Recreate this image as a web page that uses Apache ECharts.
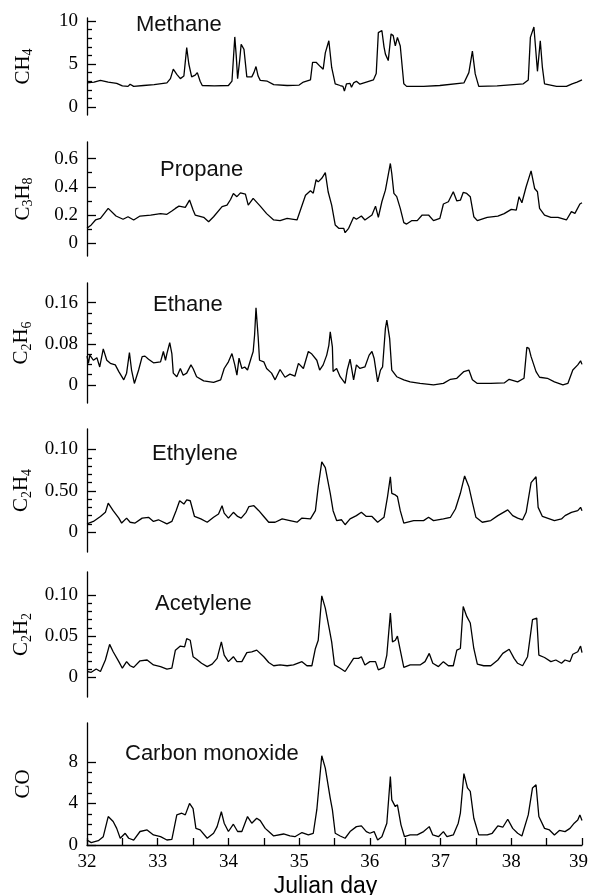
<!DOCTYPE html>
<html>
<head>
<meta charset="utf-8">
<script src="https://cdn.jsdelivr.net/npm/echarts@6/dist/echarts.min.js"></script>
<style>
  html, body { margin: 0; padding: 0; background: #fff; }
  #chart { width: 589px; height: 895px; }
</style>
</head>
<body>
<div id="chart"></div>
<script>
// x axis (Julian day)
const dayTicks = [32, 33, 34, 35, 36, 37, 38, 39];

// [day, value]
const methane = [[32.0,2.8],[32.1,2.9],[32.19,3.1],[32.3,2.9],[32.42,2.75],[32.5,2.45],[32.58,2.4],[32.61,2.65],[32.66,2.4],[32.8,2.5],[32.95,2.6],[33.13,2.8],[33.18,3.3],[33.22,4.4],[33.27,3.8],[33.32,3.3],[33.37,3.6],[33.41,6.9],[33.44,5.0],[33.48,3.5],[33.53,3.7],[33.56,4.0],[33.6,3.0],[33.63,2.5],[33.8,2.45],[34.0,2.5],[34.05,3.0],[34.09,8.15],[34.11,6.0],[34.13,3.3],[34.16,5.5],[34.18,7.3],[34.22,6.7],[34.26,3.5],[34.33,3.5],[34.36,4.0],[34.39,4.7],[34.42,3.6],[34.45,3.1],[34.55,3.0],[34.64,2.6],[34.83,2.5],[35.0,2.55],[35.06,2.9],[35.16,3.15],[35.19,5.2],[35.24,5.2],[35.3,4.7],[35.34,4.4],[35.37,6.3],[35.42,7.7],[35.46,4.6],[35.51,2.7],[35.58,2.5],[35.62,2.4],[35.64,1.85],[35.67,2.7],[35.72,2.75],[35.74,2.3],[35.77,2.8],[35.81,3.0],[35.86,2.65],[35.95,2.9],[36.05,3.15],[36.09,3.9],[36.12,8.65],[36.17,8.9],[36.2,7.0],[36.22,6.15],[36.26,5.4],[36.3,8.5],[36.33,8.3],[36.36,7.1],[36.39,8.1],[36.43,7.1],[36.48,2.7],[36.52,2.4],[36.76,2.4],[36.99,2.5],[37.33,2.8],[37.4,4.0],[37.45,6.5],[37.49,3.85],[37.54,2.4],[37.8,2.45],[38.17,2.7],[38.24,3.15],[38.27,8.1],[38.32,9.3],[38.37,4.15],[38.41,7.7],[38.44,4.6],[38.47,2.7],[38.64,2.4],[38.78,2.4],[38.86,2.7],[38.93,2.9],[39.0,3.15]];

const propane = [[32.0,0.106],[32.06,0.13],[32.12,0.165],[32.19,0.176],[32.3,0.247],[32.41,0.193],[32.51,0.17],[32.58,0.188],[32.66,0.165],[32.75,0.193],[32.9,0.2],[33.04,0.21],[33.13,0.205],[33.2,0.228],[33.25,0.247],[33.3,0.263],[33.39,0.254],[33.45,0.306],[33.5,0.235],[33.53,0.2],[33.65,0.184],[33.72,0.153],[33.79,0.188],[33.91,0.259],[33.98,0.27],[34.03,0.31],[34.07,0.353],[34.12,0.33],[34.17,0.357],[34.24,0.348],[34.28,0.27],[34.35,0.318],[34.45,0.263],[34.54,0.21],[34.64,0.165],[34.73,0.16],[34.83,0.176],[34.92,0.17],[34.97,0.165],[35.09,0.34],[35.16,0.372],[35.2,0.355],[35.24,0.45],[35.27,0.435],[35.32,0.46],[35.37,0.5],[35.41,0.365],[35.46,0.27],[35.51,0.13],[35.56,0.106],[35.63,0.106],[35.65,0.075],[35.7,0.106],[35.77,0.184],[35.81,0.17],[35.88,0.193],[35.93,0.165],[36.03,0.2],[36.08,0.263],[36.12,0.184],[36.17,0.294],[36.22,0.376],[36.29,0.565],[36.31,0.494],[36.34,0.353],[36.38,0.33],[36.43,0.247],[36.48,0.146],[36.52,0.136],[36.59,0.16],[36.67,0.16],[36.74,0.2],[36.83,0.2],[36.9,0.16],[36.99,0.176],[37.04,0.278],[37.11,0.294],[37.18,0.365],[37.23,0.3],[37.28,0.305],[37.32,0.36],[37.37,0.353],[37.42,0.33],[37.47,0.188],[37.52,0.16],[37.66,0.184],[37.81,0.193],[37.9,0.21],[38.0,0.24],[38.07,0.235],[38.11,0.33],[38.15,0.287],[38.21,0.4],[38.28,0.513],[38.33,0.388],[38.37,0.365],[38.4,0.247],[38.47,0.2],[38.56,0.184],[38.66,0.184],[38.78,0.165],[38.85,0.224],[38.9,0.212],[38.97,0.278],[39.0,0.287]];

const ethane = [[32.0,0.056],[32.02,0.042],[32.04,0.058],[32.09,0.048],[32.14,0.053],[32.18,0.035],[32.23,0.07],[32.28,0.048],[32.33,0.042],[32.4,0.039],[32.45,0.026],[32.52,0.01],[32.56,0.023],[32.6,0.063],[32.63,0.029],[32.67,0.003],[32.73,0.029],[32.78,0.055],[32.82,0.056],[32.87,0.05],[32.94,0.043],[33.04,0.045],[33.08,0.065],[33.11,0.048],[33.13,0.061],[33.17,0.082],[33.2,0.061],[33.22,0.023],[33.27,0.016],[33.32,0.032],[33.36,0.019],[33.41,0.023],[33.47,0.039],[33.5,0.032],[33.55,0.016],[33.65,0.008],[33.79,0.005],[33.89,0.01],[33.94,0.032],[34.0,0.045],[34.05,0.061],[34.09,0.039],[34.12,0.019],[34.15,0.052],[34.19,0.032],[34.23,0.035],[34.27,0.029],[34.32,0.052],[34.35,0.065],[34.37,0.097],[34.39,0.15],[34.42,0.094],[34.44,0.048],[34.5,0.045],[34.54,0.032],[34.61,0.023],[34.66,0.01],[34.73,0.03],[34.8,0.015],[34.87,0.021],[34.94,0.017],[34.99,0.042],[35.06,0.032],[35.13,0.065],[35.18,0.06],[35.25,0.048],[35.29,0.029],[35.34,0.039],[35.39,0.058],[35.42,0.077],[35.44,0.103],[35.47,0.074],[35.48,0.026],[35.53,0.032],[35.58,0.016],[35.65,0.003],[35.68,0.029],[35.72,0.05],[35.77,0.01],[35.81,0.039],[35.86,0.032],[35.93,0.035],[35.99,0.058],[36.03,0.065],[36.06,0.052],[36.11,0.006],[36.15,0.029],[36.18,0.035],[36.22,0.11],[36.24,0.126],[36.28,0.09],[36.31,0.029],[36.38,0.016],[36.48,0.01],[36.57,0.006],[36.71,0.003],[36.9,0.0],[37.04,0.003],[37.14,0.011],[37.23,0.013],[37.33,0.026],[37.4,0.029],[37.45,0.01],[37.52,0.003],[37.71,0.003],[37.9,0.004],[37.97,0.011],[38.09,0.006],[38.18,0.013],[38.22,0.073],[38.25,0.071],[38.28,0.055],[38.3,0.052],[38.35,0.026],[38.4,0.015],[38.51,0.013],[38.61,0.006],[38.73,0.0],[38.8,0.003],[38.87,0.029],[38.94,0.039],[38.98,0.047],[39.0,0.04]];

const ethylene = [[32.0,0.01],[32.09,0.013],[32.19,0.019],[32.26,0.024],[32.3,0.035],[32.37,0.026],[32.45,0.017],[32.49,0.011],[32.56,0.017],[32.61,0.012],[32.68,0.011],[32.78,0.017],[32.87,0.018],[32.94,0.013],[33.01,0.015],[33.13,0.01],[33.2,0.013],[33.26,0.026],[33.31,0.038],[33.37,0.034],[33.41,0.039],[33.46,0.038],[33.52,0.019],[33.61,0.016],[33.7,0.012],[33.79,0.018],[33.86,0.022],[33.91,0.032],[33.94,0.023],[34.0,0.017],[34.07,0.024],[34.13,0.019],[34.18,0.017],[34.25,0.024],[34.29,0.031],[34.36,0.032],[34.43,0.026],[34.5,0.019],[34.57,0.012],[34.66,0.012],[34.76,0.016],[34.87,0.014],[34.97,0.012],[35.04,0.017],[35.16,0.016],[35.23,0.026],[35.27,0.055],[35.32,0.085],[35.37,0.078],[35.39,0.076],[35.44,0.047],[35.48,0.026],[35.53,0.014],[35.6,0.015],[35.65,0.009],[35.72,0.016],[35.81,0.02],[35.88,0.024],[35.95,0.019],[36.03,0.019],[36.11,0.012],[36.2,0.018],[36.25,0.043],[36.29,0.067],[36.31,0.047],[36.36,0.045],[36.39,0.043],[36.43,0.026],[36.48,0.011],[36.62,0.014],[36.76,0.014],[36.83,0.018],[36.9,0.014],[37.04,0.016],[37.14,0.018],[37.21,0.028],[37.28,0.047],[37.34,0.068],[37.4,0.055],[37.45,0.036],[37.5,0.018],[37.59,0.012],[37.71,0.014],[37.81,0.02],[37.95,0.027],[38.02,0.02],[38.09,0.017],[38.16,0.015],[38.21,0.024],[38.28,0.06],[38.35,0.067],[38.38,0.03],[38.44,0.019],[38.61,0.014],[38.71,0.016],[38.76,0.02],[38.85,0.024],[38.94,0.026],[38.98,0.03],[39.0,0.026]];

const acetylene = [[32.0,0.007],[32.06,0.006],[32.13,0.01],[32.19,0.007],[32.26,0.021],[32.32,0.04],[32.37,0.031],[32.45,0.019],[32.5,0.011],[32.56,0.019],[32.61,0.014],[32.66,0.012],[32.75,0.02],[32.85,0.021],[32.94,0.015],[33.04,0.013],[33.13,0.01],[33.2,0.011],[33.25,0.033],[33.32,0.038],[33.38,0.037],[33.41,0.047],[33.46,0.045],[33.5,0.025],[33.55,0.022],[33.62,0.017],[33.7,0.013],[33.77,0.016],[33.84,0.023],[33.9,0.043],[33.94,0.027],[34.0,0.019],[34.07,0.025],[34.12,0.019],[34.19,0.019],[34.26,0.03],[34.33,0.031],[34.4,0.033],[34.5,0.025],[34.57,0.018],[34.64,0.014],[34.73,0.015],[34.83,0.014],[34.92,0.015],[35.04,0.019],[35.11,0.014],[35.18,0.014],[35.23,0.035],[35.27,0.045],[35.32,0.099],[35.37,0.084],[35.39,0.082],[35.43,0.057],[35.46,0.043],[35.5,0.015],[35.58,0.011],[35.65,0.007],[35.77,0.023],[35.84,0.023],[35.88,0.025],[35.93,0.015],[36.0,0.019],[36.08,0.019],[36.12,0.009],[36.2,0.012],[36.24,0.027],[36.29,0.078],[36.32,0.043],[36.36,0.045],[36.39,0.05],[36.43,0.033],[36.48,0.012],[36.57,0.015],[36.71,0.015],[36.78,0.019],[36.84,0.029],[36.89,0.017],[36.97,0.013],[37.04,0.019],[37.11,0.014],[37.18,0.014],[37.23,0.033],[37.28,0.035],[37.32,0.086],[37.37,0.074],[37.42,0.066],[37.47,0.035],[37.52,0.016],[37.61,0.014],[37.71,0.014],[37.81,0.021],[37.88,0.029],[37.97,0.034],[38.04,0.023],[38.09,0.017],[38.16,0.014],[38.23,0.025],[38.3,0.07],[38.36,0.072],[38.39,0.027],[38.47,0.024],[38.56,0.019],[38.63,0.021],[38.71,0.017],[38.76,0.021],[38.83,0.019],[38.87,0.028],[38.94,0.031],[38.98,0.038],[39.0,0.03]];

const carbonMonoxide = [[32.0,0.48],[32.06,0.23],[32.16,0.42],[32.23,0.8],[32.3,2.74],[32.37,2.26],[32.42,1.6],[32.47,0.65],[32.49,0.48],[32.54,1.13],[32.59,0.65],[32.66,0.48],[32.75,1.3],[32.85,1.45],[32.94,0.97],[33.04,0.8],[33.13,0.48],[33.2,0.55],[33.27,2.9],[33.34,3.06],[33.39,2.9],[33.45,4.0],[33.5,3.5],[33.54,1.6],[33.6,1.45],[33.7,0.65],[33.79,1.13],[33.84,1.77],[33.9,3.2],[33.94,2.1],[34.0,1.3],[34.07,2.0],[34.13,1.3],[34.19,1.3],[34.27,2.74],[34.33,2.1],[34.4,2.58],[34.45,2.35],[34.52,1.6],[34.57,1.3],[34.64,0.87],[34.78,1.06],[34.87,0.87],[34.94,0.8],[35.04,1.2],[35.13,0.97],[35.2,1.13],[35.25,3.4],[35.32,8.6],[35.37,7.4],[35.39,7.25],[35.44,4.5],[35.47,3.4],[35.51,1.13],[35.58,0.87],[35.65,0.65],[35.72,1.29],[35.81,1.77],[35.88,1.84],[35.95,1.29],[36.0,1.13],[36.06,1.29],[36.11,0.48],[36.17,0.8],[36.24,2.1],[36.29,6.6],[36.31,4.35],[36.36,3.7],[36.39,3.87],[36.44,1.94],[36.49,0.8],[36.57,0.97],[36.67,0.97],[36.76,1.29],[36.84,1.77],[36.89,0.97],[36.97,0.8],[37.04,1.29],[37.09,0.8],[37.18,0.97],[37.25,2.1],[37.28,3.06],[37.33,6.87],[37.38,5.5],[37.42,5.16],[37.47,2.58],[37.54,0.97],[37.66,0.97],[37.73,1.13],[37.81,1.84],[37.88,1.71],[37.95,2.48],[38.02,1.6],[38.09,1.13],[38.15,0.87],[38.24,2.9],[38.3,5.5],[38.35,5.8],[38.39,2.74],[38.47,1.6],[38.54,1.45],[38.61,0.97],[38.68,1.4],[38.76,1.29],[38.83,1.6],[38.89,2.1],[38.94,2.4],[38.97,2.9],[39.0,2.35]];

// y tick values and the labels printed next to them
const methaneTicks = [0, 5, 10];
const methaneLabels = ['0', '5', '10'];
const methaneMinor = [1, 2, 3, 4, 6, 7, 8, 9];
const propaneTicks = [0, 0.2, 0.4, 0.6];
const propaneLabels = ['0', '0.2', '0.4', '0.6'];
const propaneMinor = [0.1, 0.3, 0.5];
const ethaneTicks = [0, 0.08, 0.16];
const ethaneLabels = ['0', '0.08', '0.16'];
const ethaneMinor = [0.02, 0.04, 0.06, 0.1, 0.12, 0.14];
const ethyleneTicks = [0, 0.05, 0.1];
const ethyleneLabels = ['0', '0.50', '0.10'];
const ethyleneMinor = [0.01, 0.02, 0.03, 0.04, 0.06, 0.07, 0.08, 0.09];
const acetyleneTicks = [0, 0.05, 0.1];
const acetyleneLabels = ['0', '0.05', '0.10'];
const acetyleneMinor = [0.01, 0.02, 0.03, 0.04, 0.06, 0.07, 0.08, 0.09];
const coTicks = [0, 4, 8];
const coLabels = ['0', '4', '8'];
const coMinor = [1, 2, 3, 5, 6, 7];

const serif = '"Liberation Serif", "DejaVu Serif", serif';
const sans = '"Liberation Sans", Arial, sans-serif';

const panels = [
  { data: methane, ticks: methaneTicks, labels: methaneLabels, minor: methaneMinor,
    name: '{m|CH}{s|4}', title: 'Methane', top: 18, bottom: 115, min: -0.93, max: 10.35, tx: 136, ty: 13 },
  { data: propane, ticks: propaneTicks, labels: propaneLabels, minor: propaneMinor,
    name: '{m|C}{s|3}{m|H}{s|8}', title: 'Propane', top: 142, bottom: 256, min: -0.09, max: 0.717, tx: 160, ty: 158 },
  { data: ethane, ticks: ethaneTicks, labels: ethaneLabels, minor: ethaneMinor,
    name: '{m|C}{s|2}{m|H}{s|6}', title: 'Ethane', top: 283, bottom: 403, min: -0.035, max: 0.198, tx: 153, ty: 293 },
  { data: ethylene, ticks: ethyleneTicks, labels: ethyleneLabels, minor: ethyleneMinor,
    name: '{m|C}{s|2}{m|H}{s|4}', title: 'Ethylene', top: 429, bottom: 552, min: -0.024, max: 0.1248, tx: 152, ty: 442 },
  { data: acetylene, ticks: acetyleneTicks, labels: acetyleneLabels, minor: acetyleneMinor,
    name: '{m|C}{s|2}{m|H}{s|2}', title: 'Acetylene', top: 572, bottom: 697, min: -0.024, max: 0.128, tx: 155, ty: 592 },
  { data: carbonMonoxide, ticks: coTicks, labels: coLabels, minor: coMinor,
    name: '{m|CO}', title: 'Carbon monoxide', top: 723, bottom: 845, min: 0, max: 11.75, tx: 125, ty: 742 }
];

const black = '#000';
const grid = [], xAxis = [], yAxis = [], series = [], graphic = [];

panels.forEach((p, i) => {
  const last = i === panels.length - 1;
  grid.push({ left: 87, width: 495, top: p.top, height: p.bottom - p.top,
              containLabel: false, outerBoundsMode: 'none' });

  xAxis.push({
    type: 'value', gridIndex: i, min: 32, max: 39, interval: 0.5, show: last,
    axisLine: { show: true, lineStyle: { color: black, width: 1.3 } },
    axisTick: { show: true, inside: true, length: 7, lineStyle: { color: black, width: 1.3 } },
    axisLabel: {
      customValues: dayTicks, margin: 8, color: black, fontFamily: serif, fontSize: 19,
      // the last label sits a little inside the right edge
      formatter: v => (v === 39 ? '{e|39}' : String(v)),
      rich: { e: { width: 26, align: 'left', color: black, fontFamily: serif, fontSize: 19 } }
    },
    splitLine: { show: false },
    name: last ? 'Julian day' : '', nameLocation: 'middle', nameGap: 30,
    nameTextStyle: { color: black, fontFamily: sans, fontSize: 23, padding: [0, 18, 0, 0] }
  });

  // major ticks, labels and the axis line
  yAxis.push({
    type: 'value', gridIndex: i, position: 'left', min: p.min, max: p.max,
    axisLine: { show: true, lineStyle: { color: black, width: 1.3 } },
    axisTick: { show: true, inside: true, length: 9, customValues: p.ticks,
                lineStyle: { color: black, width: 1.3 } },
    axisLabel: {
      customValues: p.ticks, margin: 9, color: black, fontFamily: serif, fontSize: 19,
      formatter: v => {
        let k = 0;
        p.ticks.forEach((t, j) => { if (Math.abs(t - v) < Math.abs(p.ticks[k] - v)) k = j; });
        return p.labels[k];
      }
    },
    splitLine: { show: false },
    name: p.name, nameLocation: 'middle', nameRotate: 90, nameGap: 52,
    nameTextStyle: {
      color: black,
      rich: {
        m: { fontFamily: serif, fontSize: 21, lineHeight: 24, color: black },
        s: { fontFamily: serif, fontSize: 14, lineHeight: 14, verticalAlign: 'bottom', color: black }
      }
    }
  });
  // minor ticks
  yAxis.push({
    type: 'value', gridIndex: i, position: 'left', offset: 0, min: p.min, max: p.max,
    axisLine: { show: false },
    axisTick: { show: true, inside: true, length: 5, customValues: p.minor,
                lineStyle: { color: black, width: 1.3 } },
    axisLabel: { show: false },
    splitLine: { show: false }
  });

  series.push({
    type: 'line', xAxisIndex: i, yAxisIndex: 2 * i, data: p.data,
    showSymbol: false, symbol: 'none', silent: true,
    lineStyle: { color: black, width: 1.3 }
  });

  graphic.push({
    type: 'text', left: p.tx, top: p.ty + 1,
    style: { text: p.title, font: '22px ' + sans, fill: '#111' }
  });
});

const chart = echarts.init(document.getElementById('chart'), null, { renderer: 'canvas' });
chart.setOption({
  animation: false,
  backgroundColor: '#fff',
  grid, xAxis, yAxis, series, graphic
});
</script>
</body>
</html>
